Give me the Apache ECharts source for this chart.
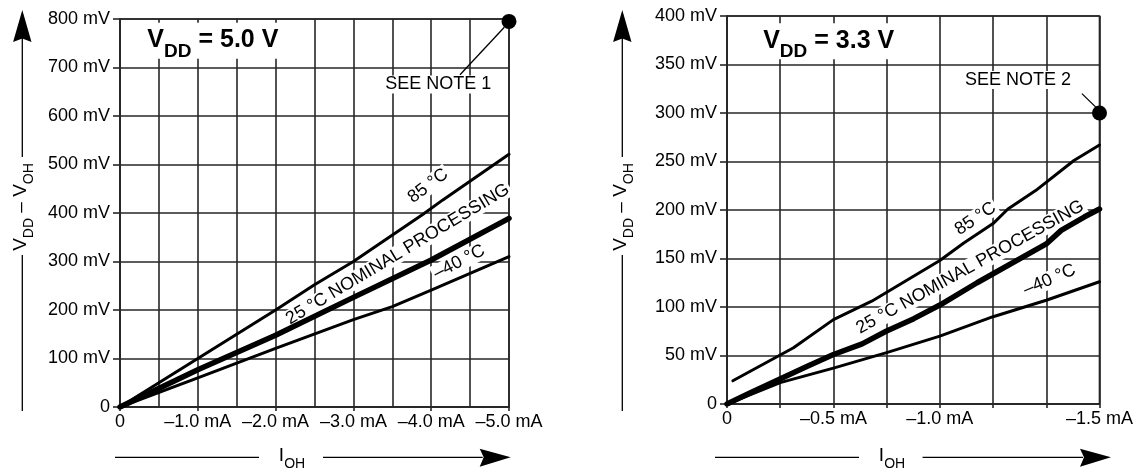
<!DOCTYPE html>
<html><head><meta charset="utf-8">
<script src="https://cdn.jsdelivr.net/npm/echarts@6/dist/echarts.min.js"></script>
<style>html,body{margin:0;padding:0;background:#fff}#c{width:1136px;height:470px}</style>
</head><body><div id="c"></div>
<script>
// ================= DATA =================
// Left panel, VDD = 5.0 V : x = IOH in mA (negative), y = VDD - VOH in mV
const xTickLabels50 = ['0', '–1.0 mA', '–2.0 mA', '–3.0 mA', '–4.0 mA', '–5.0 mA'];
const curve50_85C  = [[0,0],[-0.5,50],[-1.0,100],[-2.0,200],[-2.5,252],[-3.0,300],[-3.9,398],[-4.15,427],[-5.0,521]];
const curve50_25C  = [[0,0],[-1.0,77],[-2.0,148],[-3.0,226],[-4.0,303],[-5.0,389]];
const curve50_m40C = [[0,0],[-1.0,60],[-2.0,121],[-3.0,180],[-3.5,207],[-4.0,241],[-5.0,310]];
const note50Point  = [[-5.0, 795]];

// Right panel, VDD = 3.3 V : x = grid column along the IOH axis (0..7), y = VDD - VOH in mV
const xTickLabels33 = ['0', '', '–0.5 mA', '', '–1.0 mA', '', '', '–1.5 mA'];
const curve33_85C  = [[0.11,24],[1.25,58],[2,87],[2.72,106],[4,148],[4.45,166],[5,186],[5.28,201],[5.8,220],[6.52,251],[7,267]];
const curve33_25C  = [[0,0],[0.42,11],[1.51,39],[2,51],[2.54,62],[2.99,75],[3.51,88],[4,102],[4.7,125],[6,165],[6.28,179],[6.72,193],[7,201]];
const curve33_m40C = [[0,0],[1,22],[2,37],[3,53],[4,70],[5,90],[6,107],[7,126]];
const note33Point  = [[7, 300]];

// Annotation anchors (data coordinates)
const notes50 = [
  {text: '85 °C', at: [-3.96, 456], rot: 37},
  {text: '25 °C NOMINAL PROCESSING', at: [-3.57, 315], rot: 31},
  {text: '–40 °C', at: [-4.36, 299], rot: 27}
];
const notes33 = [
  {text: '85 °C', at: [4.67, 191], rot: 34},
  {text: '25 °C NOMINAL PROCESSING', at: [4.57, 141], rot: 29},
  {text: '–40 °C', at: [6.06, 128], rot: 23}
];
const leader50 = [[-4.94, 783], [-4.37, 685]];
const leader33 = [[6.67, 320], [6.95, 305]];
const seeNote50 = {text: 'SEE NOTE 1', at: [-4.09, 665]};
const seeNote33 = {text: 'SEE NOTE 2', at: [5.47, 334]};
const title50 = {at: [-1.2, 755], vdd: '5.0 V'};
const title33 = {at: [1.92, 374], vdd: '3.3 V'};

// ================= STYLE =================
const NARROW = "'Liberation Sans Narrow','Arial Narrow','Liberation Sans',Arial,sans-serif";
const SANS = "'Liberation Sans',Arial,Helvetica,sans-serif";
const INK = '#000';
const GRID_C = '#262626';

const G = [
  {left: 120, top: 19, width: 389, height: 388},
  {left: 727, top: 16, width: 378, height: 388}
];

function yAxis(gi, max, interval) {
  return {
    type: 'value', gridIndex: gi, min: 0, max: max, interval: interval,
    axisLine: {show: true, lineStyle: {color: GRID_C, width: 1.6}},
    axisTick: {show: true, length: 7, lineStyle: {color: GRID_C, width: 1.6}},
    axisLabel: {margin: 10, fontSize: 18, fontFamily: NARROW, color: INK,
      showMinLabel: true, showMaxLabel: true,
      formatter: v => v === 0 ? '0' : v + ' mV'},
    splitLine: {show: true, lineStyle: {color: GRID_C, width: 1.6}}
  };
}

const labelBase = {
  show: true, position: 'inside', fontSize: 18, fontFamily: NARROW, color: INK,
  backgroundColor: '#fff', padding: [0, 2], textBorderWidth: 0, opacity: 1
};

function noteSeries(gi, items) {
  return {
    type: 'scatter', xAxisIndex: gi, yAxisIndex: gi, z: 1, silent: true,
    symbolSize: 1, itemStyle: {color: 'rgba(0,0,0,0)', opacity: 1},
    data: items.map(n => ({value: n.at, label: Object.assign({}, labelBase, {formatter: n.text, rotate: n.rot || 0})}))
  };
}

function titleSeries(gi, t) {
  return {
    type: 'scatter', xAxisIndex: gi, yAxisIndex: gi, z: 1, silent: true,
    symbolSize: 1, itemStyle: {color: 'rgba(0,0,0,0)', opacity: 1},
    data: [{value: t.at, label: {
      show: true, position: 'inside', backgroundColor: '#fff', padding: [5, 10, 3, 9], opacity: 1,
      formatter: '{v|V}{s|DD}{v| = ' + t.vdd + '}',
      rich: {
        v: {fontSize: 25, fontWeight: 'bold', fontFamily: SANS, color: INK, lineHeight: 28, verticalAlign: 'top'},
        s: {fontSize: 19, fontWeight: 'bold', fontFamily: SANS, color: INK, lineHeight: 19, padding: [14, 0, 0, 0], verticalAlign: 'top'}
      }
    }}]
  };
}

function curve(gi, data, w) {
  return {type: 'line', xAxisIndex: gi, yAxisIndex: gi, data: data, symbol: 'none', z: 3, silent: true,
    lineStyle: {color: '#000', width: w, join: 'round', cap: 'round'}};
}

function leader(gi, data) {
  return {type: 'line', xAxisIndex: gi, yAxisIndex: gi, data: data, symbol: 'none', z: 4, silent: true,
    lineStyle: {color: '#000', width: 1.3}};
}

function dot(gi, data) {
  return {type: 'scatter', xAxisIndex: gi, yAxisIndex: gi, data: data, symbolSize: 15, z: 5, silent: true,
    itemStyle: {color: '#000', opacity: 1}};
}

// ---------- decorations: axis titles with arrows ----------
const axisRich = {
  m: {fontSize: 19, fontFamily: NARROW, color: INK, lineHeight: 22, verticalAlign: 'top'},
  s: {fontSize: 14, fontFamily: NARROW, color: INK, lineHeight: 14, padding: [11, 0, 0, 0], verticalAlign: 'top'}
};
function yArrow(x) {
  return [
    {type: 'line', shape: {x1: x, y1: 38, x2: x, y2: 157}, style: {stroke: '#000', lineWidth: 1.3}},
    {type: 'line', shape: {x1: x, y1: 255, x2: x, y2: 411}, style: {stroke: '#000', lineWidth: 1.3}},
    {type: 'polygon', shape: {points: [[x, 10], [x + 9.2, 42], [x, 38.5], [x - 9.2, 42]]}, style: {fill: '#000'}},
    {type: 'text', x: x, y: 207, rotation: Math.PI / 2,
      style: {text: '{m|V}{s|DD}{m| – V}{s|OH}', rich: axisRich, align: 'center', verticalAlign: 'middle'}}
  ];
}
function xArrow(x0, x1, x2, tip, cx) {
  return [
    {type: 'line', shape: {x1: x0, y1: 457.3, x2: x1, y2: 457.3}, style: {stroke: '#000', lineWidth: 1.3}},
    {type: 'line', shape: {x1: x2, y1: 457.3, x2: tip - 28, y2: 457.3}, style: {stroke: '#000', lineWidth: 1.3}},
    {type: 'polygon', shape: {points: [[tip, 457.3], [tip - 31, 448.8], [tip - 27, 457.3], [tip - 31, 466.8]]}, style: {fill: '#000'}},
    {type: 'text', x: cx, y: 457, style: {text: '{m|I}{s|OH}', rich: axisRich, align: 'center', verticalAlign: 'middle'}}
  ];
}

const option = {
  animation: false,
  backgroundColor: '#fff',
  grid: G.map(g => Object.assign({show: true, borderColor: GRID_C, borderWidth: 1.6, backgroundColor: 'transparent', containLabel: false}, g)),
  xAxis: [
    {
      type: 'value', gridIndex: 0, min: -5, max: 0, interval: 1, inverse: true,
      axisLine: {show: true, lineStyle: {color: GRID_C, width: 1.6}},
      axisTick: {show: true, length: 4, lineStyle: {color: GRID_C, width: 1.6}},
      minorTick: {show: false, splitNumber: 2},
      minorSplitLine: {show: true, lineStyle: {color: GRID_C, width: 1.6}},
      splitLine: {show: true, lineStyle: {color: GRID_C, width: 1.6}},
      axisLabel: {margin: 6, fontSize: 18, fontFamily: NARROW, color: INK,
        showMinLabel: true, showMaxLabel: true, hideOverlap: false,
        formatter: v => xTickLabels50[Math.round(-v)]}
    },
    {
      type: 'value', gridIndex: 1, min: 0, max: 7, interval: 1,
      axisLine: {show: true, lineStyle: {color: GRID_C, width: 1.6}},
      axisTick: {show: true, length: 4, lineStyle: {color: GRID_C, width: 1.6}},
      splitLine: {show: true, lineStyle: {color: GRID_C, width: 1.6}},
      axisLabel: {margin: 6, fontSize: 18, fontFamily: NARROW, color: INK,
        showMinLabel: true, showMaxLabel: true, hideOverlap: false,
        formatter: v => xTickLabels33[Math.round(v)]}
    }
  ],
  yAxis: [yAxis(0, 800, 100), yAxis(1, 400, 50)],
  series: [
    noteSeries(0, notes50.concat([seeNote50])),
    titleSeries(0, title50),
    curve(0, curve50_85C, 3),
    curve(0, curve50_m40C, 3),
    curve(0, curve50_25C, 5.5),
    leader(0, leader50),
    dot(0, note50Point),
    noteSeries(1, notes33.concat([seeNote33])),
    titleSeries(1, title33),
    curve(1, curve33_85C, 3),
    curve(1, curve33_m40C, 3),
    curve(1, curve33_25C, 5.5),
    leader(1, leader33),
    dot(1, note33Point)
  ],
  graphic: [].concat(
    yArrow(22.3), yArrow(622.3),
    xArrow(115, 259, 323, 510.7, 292),
    xArrow(715, 859, 922.6, 1111, 892)
  )
};

const chart = echarts.init(document.getElementById('c'), null, {renderer: 'canvas'});
chart.setOption(option);
</script>
</body></html>
